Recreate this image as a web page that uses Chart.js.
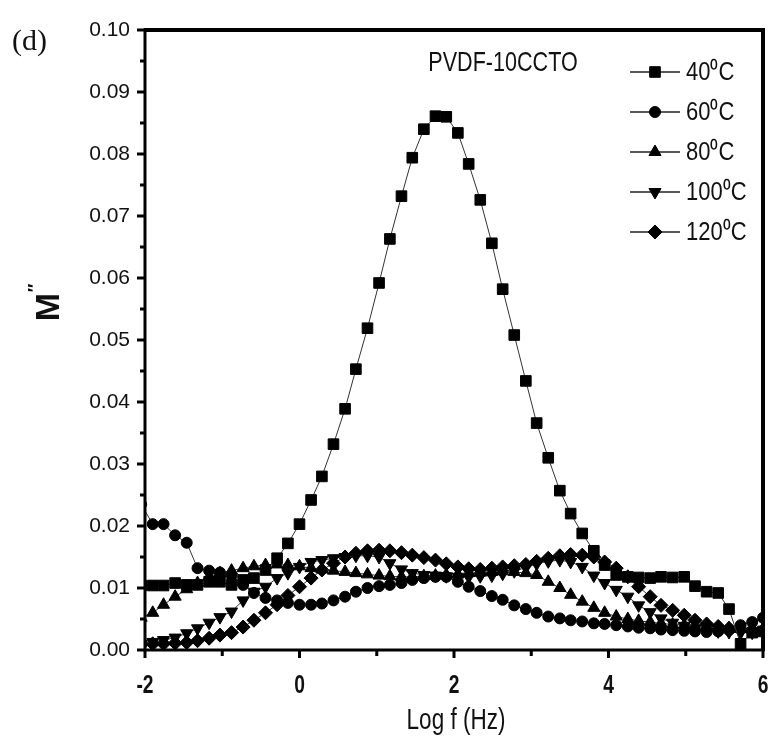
<!DOCTYPE html>
<html>
<head>
<meta charset="utf-8">
<script src="https://cdn.jsdelivr.net/npm/chart.js@4.4.1/dist/chart.umd.min.js"></script>
<style>
html, body { margin: 0; padding: 0; background: #fff; }
#wrap { position: relative; width: 778px; height: 744px; }
</style>
</head>
<body>
<div id="wrap"><canvas id="chart" width="778" height="744"></canvas></div>
<script>
// log f (Hz) values shared by all temperatures
var logF = [-2.05, -1.90, -1.76, -1.61, -1.46, -1.32, -1.17, -1.03, -0.88, -0.73,
            -0.59, -0.44, -0.29, -0.15, 0.00, 0.15, 0.29, 0.44, 0.59, 0.73,
            0.88, 1.03, 1.17, 1.32, 1.46, 1.61, 1.76, 1.90, 2.05, 2.19,
            2.34, 2.49, 2.63, 2.78, 2.93, 3.07, 3.22, 3.37, 3.51, 3.66,
            3.81, 3.95, 4.10, 4.25, 4.39, 4.54, 4.68, 4.83, 4.98, 5.12,
            5.27, 5.42, 5.56, 5.71, 5.86, 6.00];

var m40 = [0.0104, 0.0104, 0.0104, 0.0108, 0.0105, 0.0105, 0.0110, 0.0110, 0.0105, 0.0113,
           0.0116, 0.0129, 0.0148, 0.0172, 0.0203, 0.0242, 0.0280, 0.0332, 0.0389, 0.0453,
           0.0519, 0.0592, 0.0663, 0.0732, 0.0794, 0.0840, 0.0861, 0.0860, 0.0834, 0.0784,
           0.0726, 0.0656, 0.0582, 0.0508, 0.0434, 0.0366, 0.0310, 0.0257, 0.0220, 0.0188,
           0.0160, 0.0137, 0.0121, 0.0118, 0.0117, 0.0116, 0.0118, 0.0117, 0.0118, 0.0103,
           0.0094, 0.0092, 0.0066, 0.0010, 0.0028, 0.0030];

var m60 = [0.0235, 0.0203, 0.0203, 0.0185, 0.0173, 0.0132, 0.0128, 0.0125, 0.0120, 0.0105,
           0.0092, 0.0084, 0.0080, 0.0076, 0.0073, 0.0073, 0.0075, 0.0080, 0.0086, 0.0094,
           0.0100, 0.0103, 0.0105, 0.0108, 0.0113, 0.0116, 0.0118, 0.0118, 0.0110, 0.0102,
           0.0095, 0.0087, 0.0081, 0.0072, 0.0066, 0.0060, 0.0054, 0.0051, 0.0048, 0.0046,
           0.0043, 0.0042, 0.0040, 0.0038, 0.0036, 0.0035, 0.0033, 0.0032, 0.0031, 0.0030,
           0.0029, 0.0030, 0.0032, 0.0040, 0.0045, 0.0052];

var m80 = [0.0052, 0.0060, 0.0073, 0.0086, 0.0098, 0.0108, 0.0118, 0.0124, 0.0128, 0.0132,
           0.0135, 0.0137, 0.0138, 0.0137, 0.0135, 0.0132, 0.0130, 0.0128, 0.0126, 0.0124,
           0.0122, 0.0120, 0.0119, 0.0118, 0.0118, 0.0119, 0.0120, 0.0121, 0.0122, 0.0124,
           0.0125, 0.0126, 0.0127, 0.0126, 0.0124, 0.0121, 0.0110, 0.0100, 0.0089, 0.0078,
           0.0068, 0.0060, 0.0054, 0.0050, 0.0047, 0.0045, 0.0043, 0.0041, 0.0040, 0.0038,
           0.0037, 0.0036, 0.0035, 0.0034, 0.0033, 0.0033];

var m100 = [0.0010, 0.0013, 0.0016, 0.0020, 0.0027, 0.0035, 0.0044, 0.0053, 0.0062, 0.0080,
            0.0094, 0.0102, 0.0116, 0.0124, 0.0134, 0.0142, 0.0145, 0.0148, 0.0150, 0.0152,
            0.0152, 0.0150, 0.0140, 0.0130, 0.0124, 0.0121, 0.0120, 0.0119, 0.0118, 0.0118,
            0.0119, 0.0120, 0.0123, 0.0127, 0.0133, 0.0139, 0.0143, 0.0145, 0.0142, 0.0134,
            0.0120, 0.0108, 0.0097, 0.0086, 0.0072, 0.0061, 0.0051, 0.0044, 0.0039, 0.0035,
            0.0032, 0.0030, 0.0029, 0.0028, 0.0028, 0.0028];

var m120 = [0.0008, 0.0010, 0.0010, 0.0011, 0.0012, 0.0015, 0.0019, 0.0024, 0.0028, 0.0037,
            0.0048, 0.0060, 0.0073, 0.0088, 0.0102, 0.0116, 0.0129, 0.0140, 0.0150, 0.0156,
            0.0160, 0.0161, 0.0160, 0.0157, 0.0153, 0.0149, 0.0145, 0.0139, 0.0134, 0.0131,
            0.0130, 0.0132, 0.0134, 0.0136, 0.0138, 0.0143, 0.0148, 0.0152, 0.0154, 0.0153,
            0.0150, 0.0142, 0.0132, 0.0118, 0.0102, 0.0086, 0.0072, 0.0064, 0.0056, 0.0048,
            0.0042, 0.0038, 0.0035, 0.0033, 0.0032, 0.0032];

var seriesLabels = ['40\u2070C', '60\u2070C', '80\u2070C', '100\u2070C', '120\u2070C'];
var seriesValues = [m40, m60, m80, m100, m120];
var markers = [
  { style: 'rect', radius: 7.5, rotation: 0 },
  { style: 'circle', radius: 5.5, rotation: 0 },
  { style: 'triangle', radius: 7, rotation: 0 },
  { style: 'triangle', radius: 7, rotation: 180 },
  { style: 'rectRot', radius: 7, rotation: 0 }
];

var sans = "'Liberation Sans', Arial, sans-serif";

function toPoints(vals) {
  var pts = [];
  for (var i = 0; i < vals.length; i++) {
    pts.push({ x: logF[i], y: vals[i] });
  }
  return pts;
}

var datasets = [];
for (var s = 0; s < seriesValues.length; s++) {
  datasets.push({
    label: seriesLabels[s],
    data: toPoints(seriesValues[s]),
    borderColor: '#333',
    borderWidth: 1,
    backgroundColor: '#000',
    pointBackgroundColor: '#000',
    pointBorderColor: '#000',
    pointBorderWidth: 1,
    pointStyle: markers[s].style,
    pointRadius: markers[s].radius,
    pointRotation: markers[s].rotation,
    tension: 0
  });
}

// condensed text (no narrow font installed, so squeeze horizontally)
function narrowText(ctx, text, x, y, font, sx, align) {
  ctx.save();
  ctx.font = font;
  ctx.textAlign = align || 'center';
  ctx.textBaseline = 'middle';
  ctx.translate(x, y);
  ctx.scale(sx, 1);
  ctx.fillText(text, 0, 0);
  ctx.restore();
}

// frame, tick marks, titles and legend
var decorations = {
  id: 'decorations',
  afterDraw: function (chart) {
    var ctx = chart.ctx;
    var a = chart.chartArea;
    var xs = chart.scales.x, ys = chart.scales.y;
    ctx.save();
    ctx.strokeStyle = '#000';

    // y ticks (outside, left)
    ctx.lineWidth = 3;
    ys.ticks.forEach(function (t) {
      var py = ys.getPixelForValue(t.value);
      var major = Math.round(t.value * 1000) % 10 === 0;
      ctx.beginPath();
      ctx.moveTo(a.left, py);
      ctx.lineTo(a.left - (major ? 8 : 5), py);
      ctx.stroke();
    });
    // x ticks (outside, down) and their labels
    ctx.fillStyle = '#111';
    xs.ticks.forEach(function (t) {
      var px = xs.getPixelForValue(t.value);
      var major = Math.round(t.value) % 2 === 0;
      ctx.beginPath();
      ctx.moveTo(px, a.bottom);
      ctx.lineTo(px, a.bottom + (major ? 8 : 6));
      ctx.stroke();
      if (major) {
        narrowText(ctx, String(t.value), px, a.bottom + 36, 'bold 26px ' + sans, 0.74);
      }
    });

    // frame
    ctx.lineWidth = 3;
    ctx.strokeRect(a.left, a.top, a.right - a.left, a.bottom - a.top);
    ctx.lineWidth = 4;
    ctx.beginPath();
    ctx.moveTo(a.left - 1, a.top);
    ctx.lineTo(a.right + 2, a.top);
    ctx.moveTo(a.right, a.top);
    ctx.lineTo(a.right, a.bottom + 1);
    ctx.stroke();

    ctx.fillStyle = '#111';
    // panel label
    ctx.font = "30px 'Liberation Serif', 'Times New Roman', serif";
    ctx.textAlign = 'left';
    ctx.textBaseline = 'middle';
    ctx.fillText('(d)', 12, 42);

    // sample name
    narrowText(ctx, 'PVDF-10CCTO', 503, 63, '28px ' + sans, 0.77);

    // x axis title
    narrowText(ctx, 'Log f (Hz)', 456, 721, '30px ' + sans, 0.75);

    // y axis title
    ctx.save();
    ctx.translate(48, 307);
    ctx.rotate(-Math.PI / 2);
    ctx.font = 'bold 34px ' + sans;
    ctx.textAlign = 'center';
    ctx.fillText('M', 0, 2);
    ctx.font = 'bold 18px ' + sans;
    ctx.fillText('\u2033', 19, -12);
    ctx.restore();

    // legend
    for (var i = 0; i < chart.data.datasets.length; i++) {
      var ds = chart.data.datasets[i];
      var ly = 72 + i * 40;
      ctx.strokeStyle = '#222';
      ctx.lineWidth = 1.5;
      ctx.beginPath();
      ctx.moveTo(630, ly);
      ctx.lineTo(680, ly);
      ctx.stroke();
      ctx.fillStyle = '#000';
      ctx.strokeStyle = '#000';
      ctx.lineWidth = 1;
      Chart.helpers.drawPoint(ctx, {
        pointStyle: ds.pointStyle,
        radius: ds.pointRadius,
        rotation: ds.pointRotation,
        borderWidth: 1
      }, 655, ly);
      ctx.fillStyle = '#111';
      narrowText(ctx, ds.label, 686, ly + 1, '25px ' + sans, 0.88, 'left');
    }
    ctx.restore();
  }
};

var ctx = document.getElementById('chart');
var myChart = new Chart(ctx, {
  type: 'line',
  data: { datasets: datasets },
  options: {
    responsive: false,
    animation: false,
    devicePixelRatio: 1,
    layout: { padding: { left: 0, top: 30, right: 15, bottom: 0 } },
    plugins: {
      legend: { display: false },
      title: { display: false },
      tooltip: { enabled: false }
    },
    scales: {
      x: {
        type: 'linear',
        min: -2,
        max: 6,
        afterFit: function (scale) { scale.height = 94; },
        grid: { display: true, drawOnChartArea: false, drawTicks: true, tickLength: 8, color: 'rgba(0,0,0,0)' },
        border: { display: false },
        ticks: {
          stepSize: 1,
          autoSkip: false,
          maxRotation: 0,
          color: 'rgba(0,0,0,0)'
        }
      },
      y: {
        type: 'linear',
        min: 0,
        max: 0.1,
        afterFit: function (scale) { scale.width = 145; },
        grid: { display: true, drawOnChartArea: false, drawTicks: true, tickLength: 8, color: 'rgba(0,0,0,0)' },
        border: { display: false },
        ticks: {
          stepSize: 0.005,
          padding: 7,
          color: '#111',
          font: { family: sans, size: 21 },
          autoSkip: false,
          callback: function (v) {
            return Math.round(v * 1000) % 10 === 0 ? v.toFixed(2) : '';
          }
        }
      }
    }
  },
  plugins: [decorations]
});
</script>
</body>
</html>
